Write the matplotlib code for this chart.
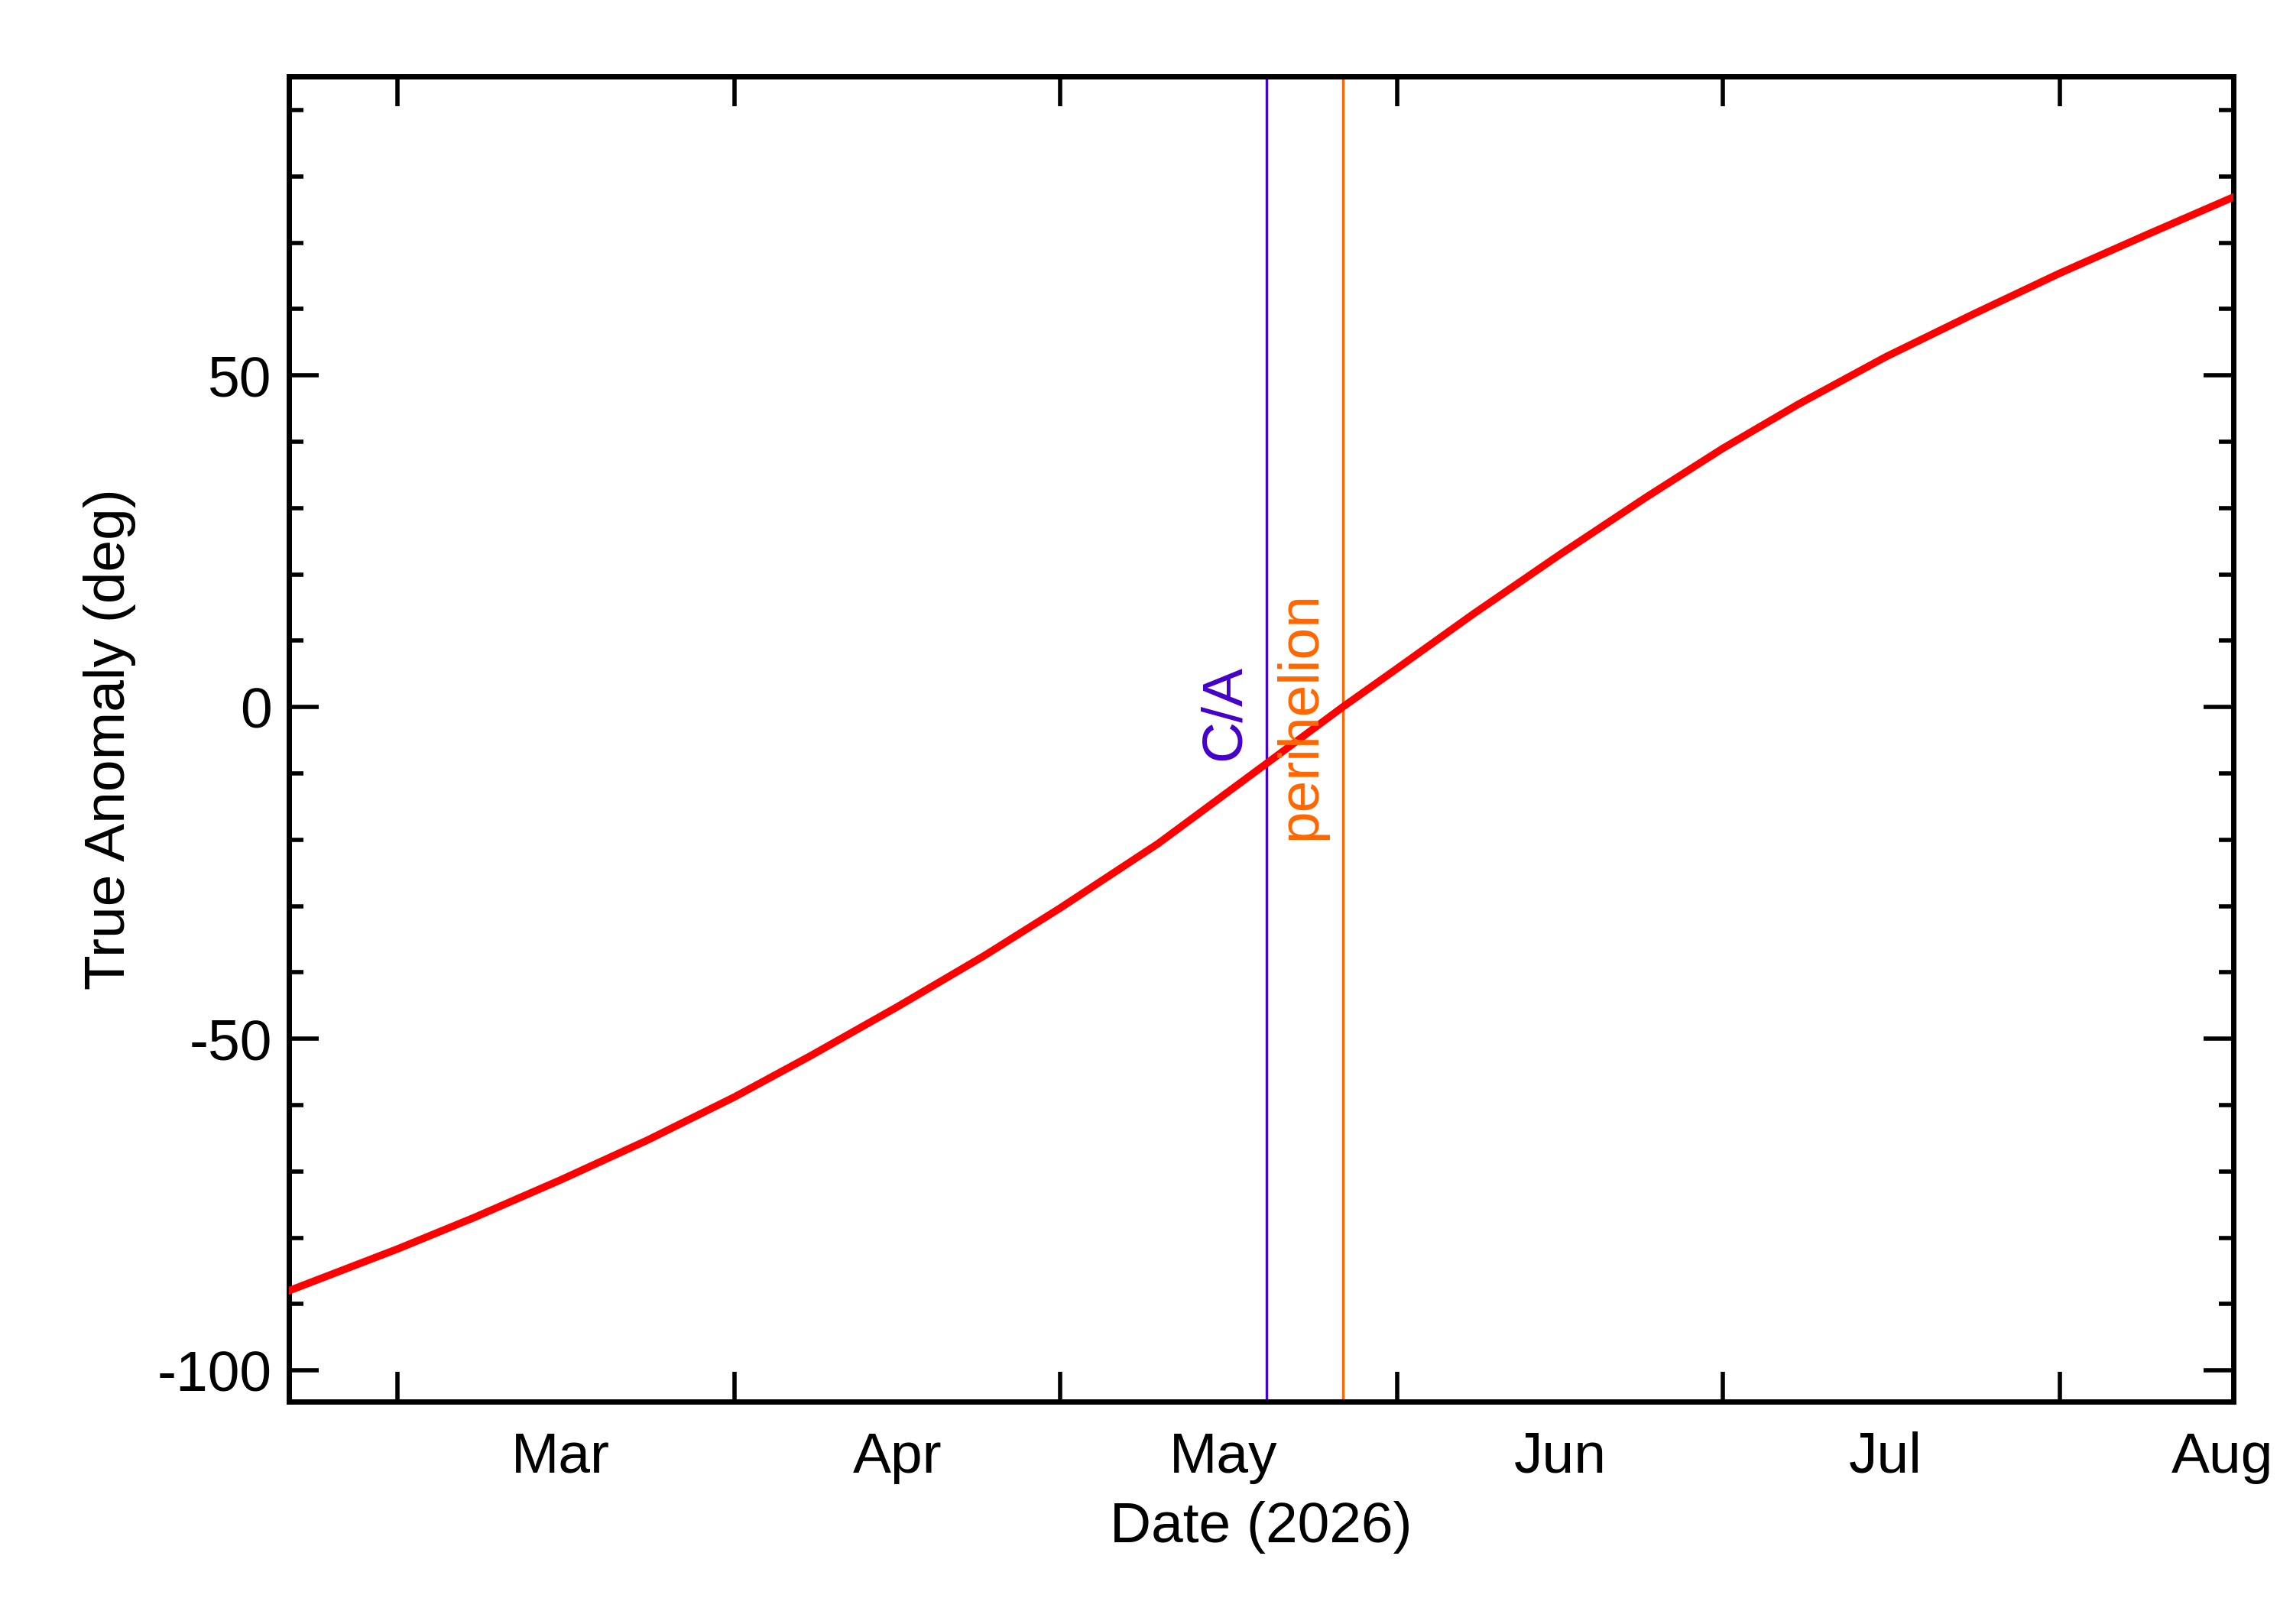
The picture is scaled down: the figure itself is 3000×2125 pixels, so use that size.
import matplotlib
matplotlib.use("Agg")
import matplotlib.pyplot as plt
import numpy as np
import datetime as dt

plt.rcParams['font.family'] = ['Liberation Sans', 'DejaVu Sans']
plt.rcParams['axes.unicode_minus'] = False

dates = ["2026-02-19","2026-03-01","2026-03-08","2026-03-16","2026-03-24","2026-04-01",
         "2026-04-08","2026-04-16","2026-04-24","2026-05-01","2026-05-10","2026-05-20",
         "2026-05-27","2026-06-01","2026-06-08","2026-06-16","2026-06-24","2026-07-01",
         "2026-07-08","2026-07-16","2026-07-24","2026-08-01","2026-08-09","2026-08-18"]
anomaly = [-88, -81.7, -77, -71.3, -65.3, -58.8,
           -52.6, -45.2, -37.5, -30.3, -20.6, -8.5,
           0, 5.8, 14, 23, 31.7, 39,
           45.7, 52.8, 59.2, 65.4, 71.2, 77.6]
ca_date = "2026-05-20"
peri_date = "2026-05-27"
month_ticks = ["2026-03-01","2026-04-01","2026-05-01","2026-06-01","2026-07-01","2026-08-01"]
month_labels = ["Mar","Apr","May","Jun","Jul","Aug"]
label_pos = ["2026-03-16","2026-04-16","2026-05-16","2026-06-16","2026-07-16","2026-08-16"]

d = lambda s: dt.datetime.strptime(s, "%Y-%m-%d")
x = [d(s) for s in dates]

fig = plt.figure(figsize=(15, 10.625), dpi=200)
ax = fig.add_axes([0.126, 0.137, 0.848, 0.816])
ax.plot(x, anomaly, color="#ff0000", lw=3.5, zorder=3)
ax.axvline(d(ca_date), color="#4400cc", lw=1.2)
ax.axvline(d(peri_date), color="#ff6600", lw=1.2)
ax.text(d(ca_date) - dt.timedelta(days=6.3), -8, "C/A", rotation=90, color="#4400cc",
        fontsize=27, ha="left", va="bottom")
ax.text(d(peri_date) - dt.timedelta(days=6.3), -20, "perihelion", rotation=90, color="#ff6600",
        fontsize=27, ha="left", va="bottom")

ax.set_xlim(d("2026-02-19"), d("2026-08-17"))
ax.set_ylim(-104.7, 95.1)
ax.set_xticks([d(s) for s in month_ticks])
ax.set_xticklabels([])
ax.set_xticks([d(s) for s in label_pos], minor=True)
ax.set_xticklabels(month_labels, minor=True)
ax.tick_params(axis="x", which="minor", length=0, pad=14, labelsize=27)
ax.tick_params(axis="x", which="major", direction="in", length=14, width=2, top=True)
ax.set_yticks([-100, -50, 0, 50])
ax.set_yticks(np.arange(-100, 95, 10), minor=True)
ax.tick_params(axis="y", which="major", direction="in", length=14, width=2, right=True, labelsize=27, pad=8)
ax.tick_params(axis="y", which="minor", direction="in", length=7, width=2, right=True)
for s in ax.spines.values():
    s.set_linewidth(2.5)
ax.set_xlabel("Date (2026)", fontsize=27, labelpad=8)
ax.set_ylabel("True Anomaly (deg)", fontsize=27, labelpad=10)
fig.savefig("out.png")
